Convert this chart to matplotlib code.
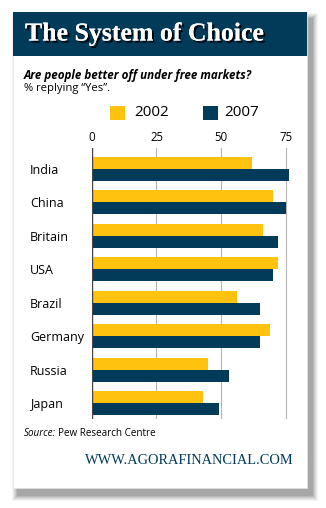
import numpy as np
import matplotlib
matplotlib.use("Agg")
import matplotlib.pyplot as plt
from matplotlib.patches import Rectangle
import matplotlib.patheffects as pe

countries = ["India", "China", "Britain", "USA", "Brazil", "Germany", "Russia", "Japan"]
yes_2002 = [62, 70, 66, 72, 56, 69, 45, 43]
yes_2007 = [76, 75, 72, 70, 65, 65, 53, 49]
xticks = [0, 25, 50, 75]

NAVY = "#023a5a"
GOLD = "#ffc20e"
W, H = 326, 508


def fx(px):
    return px / W


def fy(py):
    return 1 - py / H


fig = plt.figure(figsize=(W / 100, H / 100), dpi=100)
fig.patch.set_facecolor("white")

# card shadow (soft, offset right/down)
for i, a in enumerate([0.04, 0.05, 0.06, 0.07, 0.08, 0.10]):
    g = 6 - i
    fig.patches.append(Rectangle((fx(13 + 5 - g), fy(488 + 7 + g)), fx(294 + 2 * g), (476 + 2 * g) / H,
                                 transform=fig.transFigure, facecolor="black", alpha=a,
                                 edgecolor="none", zorder=0))
# card
fig.patches.append(Rectangle((fx(13), fy(488)), fx(294), 476 / H, transform=fig.transFigure,
                             facecolor="white", edgecolor="#e2e2e2", lw=0.5, zorder=1))
# header
fig.patches.append(Rectangle((fx(13), fy(56)), fx(294), 44 / H, transform=fig.transFigure,
                             facecolor=NAVY, edgecolor="none", zorder=2))

fig.text(fx(25), fy(34), "The System of Choice", color="white", fontsize=18.6,
         family="Liberation Serif", weight="bold", va="center", ha="left", zorder=3,
         path_effects=[pe.withSimplePatchShadow(offset=(1.5, -1.5), shadow_rgbFace="black", alpha=0.9),
                       pe.Normal()])

fig.text(fx(24), fy(75), "Are people better off under free markets?", fontsize=8.4,
         family="Open Sans", weight="bold", style="italic", va="center", ha="left", color="black")
fig.text(fx(24), fy(89), "% replying \u201cYes\u201d.", fontsize=8.1,
         family="Open Sans", va="center", ha="left", color="black")

# legend
fig.patches.append(Rectangle((fx(110), fy(120)), fx(15), 14 / H, transform=fig.transFigure,
                             facecolor=GOLD, edgecolor="none", zorder=3))
fig.text(fx(134), fy(113), "2002", fontsize=11, family="Open Sans", va="center", ha="left")
fig.patches.append(Rectangle((fx(203), fy(120)), fx(15), 14 / H, transform=fig.transFigure,
                             facecolor=NAVY, edgecolor="none", zorder=3))
fig.text(fx(224), fy(113), "2007", fontsize=11, family="Open Sans", va="center", ha="left")

# chart
x0, x1 = 91.7, 91.7 + 80 * (286 - 91.7) / 75
ax = fig.add_axes([fx(x0), fy(419), fx(x1 - x0), (419 - 148) / H], zorder=4)
ax.patch.set_alpha(0)
y = np.arange(len(countries))
bh = 0.36
ax.barh(y - bh / 2, yes_2002, height=bh, color=GOLD, zorder=3)
ax.barh(y + bh / 2, yes_2007, height=bh, color=NAVY, zorder=3)
ax.set_xlim(0, 80)
ax.set_ylim(len(countries) - 1 + 0.479, -0.628)
for v in xticks[1:]:
    ax.axvline(v, color="#b5b5b5", lw=0.8, zorder=1)
ax.axvline(0, color="#444444", lw=1.0, zorder=4)
for s in ax.spines.values():
    s.set_visible(False)
ax.xaxis.tick_top()
ax.set_xticks(xticks)
ax.set_xticklabels([str(t) for t in xticks], fontsize=8.3, family="Open Sans")
ax.tick_params(axis="x", length=0, pad=3)
ax.set_yticks(y)
ax.set_yticklabels(countries, fontsize=9, family="Open Sans", ha="left")
ax.tick_params(axis="y", length=0, pad=(x0 - 30) * 0.72)

fig.text(fx(24), fy(434), "Source:", fontsize=7.1, family="Open Sans", style="italic",
         va="center", ha="left")
fig.text(fx(58), fy(434), "Pew Research Centre", fontsize=7.1, family="Open Sans",
         va="center", ha="left")
fig.text(fx(294), fy(461), "WWW.AGORAFINANCIAL.COM", fontsize=10.4, family="Liberation Serif",
         color=NAVY, va="center", ha="right")

fig.savefig("out.png", dpi=100)
